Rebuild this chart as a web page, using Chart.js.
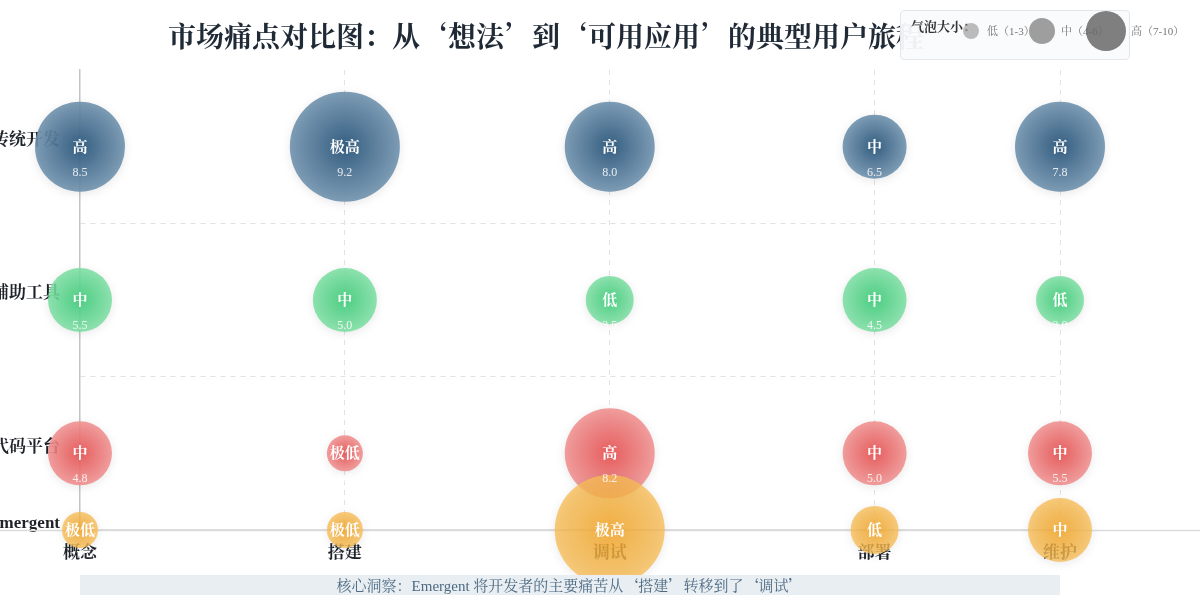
<!DOCTYPE html>
<html lang="zh">
<head>
<meta charset="utf-8">
<title>市场痛点对比图</title>
<script src="https://cdn.jsdelivr.net/npm/chart.js@4.4.1/dist/chart.umd.min.js"></script>
<style>
  html, body { margin: 0; padding: 0; background: #fff; }
  body { font-family: 'Liberation Serif', 'Noto Serif CJK SC', 'Noto Sans CJK SC', serif; }
  #wrap { position: relative; width: 1200px; height: 600px; overflow: hidden; }
  #chart { position: absolute; left: 0; top: 0; }
  #title {
    position: absolute; left: 168px; top: 15px; line-height: 40px;
    font-family: 'Noto Serif CJK SC', 'Noto Sans CJK SC', serif;
    font-size: 28px; font-weight: bold; color: #1f2a36; white-space: nowrap;
  }
  #sizeKey {
    position: absolute; left: 900px; top: 10px; width: 228px; height: 48px;
    background: rgba(250, 251, 252, 0.95); border: 1px solid #e3e6ea; border-radius: 4px;
  }
  #sizeKey .ttl { position: absolute; left: 10px; top: 5px; font-size: 13px; font-weight: bold; color: #333; }
  .keyTxt { position: absolute; top: 0; line-height: 40px; font-size: 11px; color: #777; white-space: nowrap; }
  .dot { position: absolute; border-radius: 50%; }
  .q { font-family: 'Noto Sans CJK SC', sans-serif; }
  #insight {
    position: absolute; left: 80px; top: 575px; width: 980px; height: 20px;
    background: #e8eef2; color: #4d6a82; font-size: 15px; line-height: 20px; text-align: center;
  }
</style>
</head>
<body>
<div id="wrap">
  <canvas id="chart" width="1200" height="600"></canvas>
  <div id="title">市场痛点对比图：从‘想法’到‘可用应用’的典型用户旅程</div>
  <div id="sizeKey"></div>
  <div id="insight">核心洞察：Emergent 将开发者的主要痛苦从<span class="q">‘</span>搭建<span class="q">’</span>转移到了<span class="q">‘</span>调试<span class="q">’</span></div>
</div>
<script>
// --- data ---
const stages = ['概念', '搭建', '调试', '部署', '维护'];
const stageX = [0, 1, 2, 3, 3.7];
const groups = ['传统开发', 'AI辅助工具', '低代码平台', 'Emergent'];
const groupY = [2.5, 1.5, 0.5, 0];

const traditionalScores = [8.5, 9.2, 8.0, 6.5, 7.8];
const traditionalLevels = ['高', '极高', '高', '中', '高'];
const aiToolScores = [5.5, 5.0, 3.5, 4.5, 3.0];
const aiToolLevels = ['中', '中', '低', '中', '低'];
const lowCodeScores = [4.8, 2.0, 8.2, 5.0, 5.5];
const lowCodeLevels = ['中', '极低', '高', '中', '中'];
const emergentScores = [null, null, null, null, null];
const emergentLevels = ['极低', '极低', '极高', '低', '中'];

const sizeKeyLabels = ['低（1-3）', '中（4-6）', '高（7-10）'];

// --- styles ---
const levelRadius = { '极高': 55, '高': 45, '中': 32, '低': 24, '极低': 18 };
const palettes = [
  ['rgba(45,88,124,0.96)', 'rgba(112,146,174,0.9)'],
  ['rgba(66,204,124,0.94)', 'rgba(124,222,162,0.86)'],
  ['rgba(230,84,84,0.94)', 'rgba(240,142,142,0.86)'],
  ['rgba(242,164,38,0.86)', 'rgba(246,188,86,0.78)']
];
const series = [
  { scores: traditionalScores, levels: traditionalLevels },
  { scores: aiToolScores, levels: aiToolLevels },
  { scores: lowCodeScores, levels: lowCodeLevels },
  { scores: emergentScores, levels: emergentLevels }
];

const FONT = "'Liberation Serif', 'Noto Serif CJK SC', 'Noto Sans CJK SC', serif";
Chart.defaults.font.family = FONT;

function bubbleFill(pal) {
  return (c) => {
    if (c.type !== 'data' || !c.raw) return pal[0];
    const { x: xs, y: ys } = c.chart.scales;
    if (!xs || !ys) return pal[0];
    const px = xs.getPixelForValue(c.raw.x);
    const py = ys.getPixelForValue(c.raw.y);
    if (!isFinite(px) || !isFinite(py)) return pal[0];
    const g = c.chart.ctx.createRadialGradient(px, py, 0, px, py, c.raw.r);
    g.addColorStop(0, pal[0]);
    g.addColorStop(1, pal[1]);
    return g;
  };
}

const datasets = series.map((s, gi) => ({
  label: groups[gi],
  data: stages.map((_, i) => ({
    x: stageX[i], y: groupY[gi], r: levelRadius[s.levels[i]],
    level: s.levels[i], score: s.scores[i]
  })),
  backgroundColor: bubbleFill(palettes[gi]),
  borderWidth: 0,
  order: series.length - 1 - gi,
  clip: false
}));

// long base line + soft shadow under bubbles
const baseLine = {
  id: 'baseLine',
  beforeDatasetsDraw(chart) {
    const { ctx, scales: { y } } = chart;
    const py = Math.round(y.getPixelForValue(0)) + 0.5;
    ctx.save();
    ctx.strokeStyle = '#dcdcdc';
    ctx.lineWidth = 1.5;
    ctx.beginPath();
    ctx.moveTo(0, py);
    ctx.lineTo(chart.width, py);
    ctx.stroke();
    ctx.restore();
    ctx.save();
    ctx.shadowColor = 'rgba(0,0,0,0.1)';
    ctx.shadowBlur = 10;
    ctx.shadowOffsetY = 2;
  },
  afterDatasetsDraw(chart) {
    chart.ctx.restore();
  }
};

// level + score text inside bubbles
const bubbleText = {
  id: 'bubbleText',
  afterDatasetsDraw(chart) {
    const ctx = chart.ctx;
    ctx.save();
    ctx.textAlign = 'center';
    ctx.textBaseline = 'middle';
    chart.data.datasets.forEach((ds, di) => {
      chart.getDatasetMeta(di).data.forEach((el, j) => {
        const d = ds.data[j];
        ctx.fillStyle = '#fff';
        ctx.font = 'bold 15px ' + FONT;
        ctx.fillText(d.level, el.x, el.y + 1);
        if (d.score != null) {
          ctx.fillStyle = 'rgba(255,255,255,0.85)';
          ctx.font = '12px ' + FONT;
          ctx.fillText(d.score.toFixed(1), el.x, el.y + 26);
        }
      });
    });
    ctx.restore();
  }
};

const yTicks = [...new Set([0, 1, 2, 3, ...groupY])].sort((a, b) => a - b);

new Chart(document.getElementById('chart'), {
  type: 'bubble',
  data: { datasets },
  options: {
    responsive: false,
    animation: false,
    events: [],
    layout: { padding: { top: 70, right: 140, bottom: 30, left: 0 } },
    plugins: { legend: { display: false }, tooltip: { enabled: false }, title: { display: false } },
    scales: {
      x: {
        type: 'linear', min: 0, max: stageX[stageX.length - 1],
        afterBuildTicks: (s) => { s.ticks = stageX.map(v => ({ value: v })); },
        afterFit: (s) => { s.height = 40; },
        ticks: {
          callback: (v, i) => stages[i],
          font: { size: 17, weight: 'bold' }, color: '#1e2329',
          padding: 13, maxRotation: 0, autoSkip: false
        },
        grid: { drawTicks: false, color: (c) => c.index === 0 ? 'transparent' : '#e2e2e2' },
        border: { color: '#dcdcdc', width: 1.5, dash: [5, 5] }
      },
      y: {
        type: 'linear', min: 0, max: 3,
        afterBuildTicks: (s) => { s.ticks = yTicks.map(v => ({ value: v })); },
        afterFit: (s) => { s.width = 80; },
        ticks: {
          callback: (v) => { const i = groupY.indexOf(v); return i >= 0 ? groups[i] : ''; },
          font: { size: 17, weight: 'bold' }, color: '#1e2329',
          padding: 20, labelOffset: -6, autoSkip: false
        },
        grid: {
          drawTicks: false,
          color: (c) => (c.tick && Number.isInteger(c.tick.value) && c.tick.value > 0 && c.tick.value < 3) ? '#e2e2e2' : 'transparent'
        },
        border: { color: '#c4c4c4', width: 1.5, dash: [5, 5] }
      }
    }
  },
  plugins: [baseLine, bubbleText]
});

// bubble size key (top right)
const key = document.getElementById('sizeKey');
key.innerHTML = '<div class="ttl">气泡大小：</div>';
const keyDots = [
  { cx: 70, r: 8, c: 'rgba(165,165,165,0.75)', tx: 86 },
  { cx: 141, r: 13, c: 'rgba(135,135,135,0.8)', tx: 160 },
  { cx: 205, r: 20, c: 'rgba(105,105,105,0.85)', tx: 230 }
];
keyDots.forEach((k, i) => {
  const t = document.createElement('div');
  t.className = 'keyTxt';
  t.style.left = k.tx + 'px';
  t.textContent = sizeKeyLabels[i];
  key.appendChild(t);
});
keyDots.forEach((k) => {
  const d = document.createElement('div');
  d.className = 'dot';
  d.style.left = (k.cx - k.r) + 'px';
  d.style.top = (20 - k.r) + 'px';
  d.style.width = d.style.height = (2 * k.r) + 'px';
  d.style.background = k.c;
  key.appendChild(d);
});
</script>
</body>
</html>
